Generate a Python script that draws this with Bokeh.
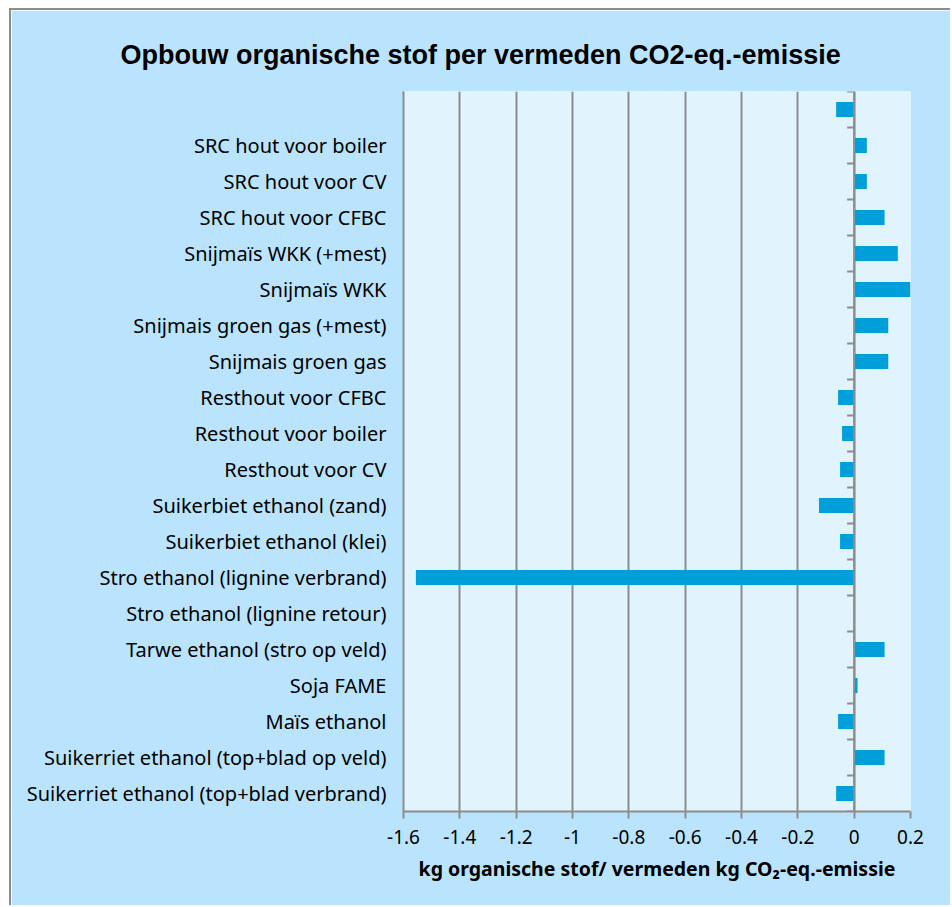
from bokeh.plotting import figure
from bokeh.models import FixedTicker, Span, Range1d, Title
from bokeh.embed import file_html
from bokeh.resources import INLINE

title_text = "Opbouw organische stof per vermeden CO2-eq.-emissie"
x_title = "kg organische stof/ vermeden kg CO\u2082-eq.-emissie"

categories = [
    "",
    "SRC hout voor boiler",
    "SRC hout voor CV",
    "SRC hout voor CFBC",
    "Snijmaïs WKK (+mest)",
    "Snijmaïs WKK",
    "Snijmais groen gas (+mest)",
    "Snijmais groen gas",
    "Resthout voor CFBC",
    "Resthout voor boiler",
    "Resthout voor CV",
    "Suikerbiet ethanol (zand)",
    "Suikerbiet ethanol (klei)",
    "Stro ethanol (lignine verbrand)",
    "Stro ethanol (lignine retour)",
    "Tarwe ethanol (stro op veld)",
    "Soja FAME",
    "Maïs ethanol",
    "Suikerriet ethanol (top+blad op veld)",
    "Suikerriet ethanol (top+blad verbrand)",
]
values = [-0.064, 0.045, 0.045, 0.108, 0.155, 0.205, 0.121, 0.121, -0.057, -0.043,
          -0.05, -0.125, -0.05, -1.556, 0.0, 0.108, 0.012, -0.057, 0.108, -0.064]

x_ticks = [-1.6, -1.4, -1.2, -1.0, -0.8, -0.6, -0.4, -0.2, 0.0, 0.2]
x_tick_labels = ["-1.6", "-1.4", "-1.2", "-1", "-0.8", "-0.6", "-0.4", "-0.2", "0", "0.2"]

OUTER = "#bae4fd"
INNER = "#e1f3fd"
BAR = "#009fda"
GRID = "#8c8c8c"
FONT = "Noto Sans"

n = len(categories)
ypos = [n - 1 - i for i in range(n)]

p = figure(width=941, height=897, output_backend="svg", toolbar_location=None,
           x_range=Range1d(x_ticks[0], x_ticks[-1]), y_range=Range1d(-0.5, n - 0.5),
           min_border_left=392, min_border_right=42, min_border_top=81, min_border_bottom=96)
p.styles = {"margin-left": "9px", "margin-top": "8px",
            "border-left": "2px solid #8c8c8c", "border-top": "2px solid #8c8c8c"}
p.background_fill_color = INNER
p.border_fill_color = OUTER
p.outline_line_color = None

p.title = Title(text=title_text, align="left", offset=-283, standoff=40,
                vertical_align="top",
                text_font="Liberation Sans", text_font_style="bold", text_font_size="27px",
                text_color="#000000")

p.hbar(y=ypos, left=0, right=values, height=0.42, color=BAR, line_color=None)

# vertical axis at zero with category tick marks
p.add_layout(Span(location=0, dimension="height", line_color=GRID, line_width=2))
bounds = [k - 0.5 for k in range(n + 1)]
tick_len = 0.025
p.segment(x0=[-tick_len] * len(bounds), x1=[0] * len(bounds), y0=bounds, y1=bounds,
          line_color=GRID, line_width=2)

xa = p.xaxis[0]
xa.ticker = FixedTicker(ticks=x_ticks)
xa.major_label_overrides = {tk: lb for tk, lb in zip(x_ticks, x_tick_labels)}
xa.axis_line_color = GRID
xa.axis_line_width = 2
xa.major_tick_line_color = GRID
xa.major_tick_line_width = 2
xa.major_tick_in = 0
xa.major_tick_out = 7
xa.minor_tick_line_color = None
xa.major_label_text_font = FONT
xa.major_label_text_font_size = "19px"
xa.major_label_text_color = "#000000"
xa.major_label_standoff = 11
xa.axis_label = x_title
xa.axis_label_text_font = FONT
xa.axis_label_text_font_style = "bold"
xa.axis_label_text_font_size = "19.5px"
xa.axis_label_text_color = "#000000"
xa.axis_label_standoff = 8

ya = p.yaxis[0]
ya.ticker = FixedTicker(ticks=ypos)
ya.major_label_overrides = {y: c for y, c in zip(ypos, categories)}
ya.axis_line_color = GRID
ya.axis_line_width = 2
ya.major_tick_line_color = None
ya.minor_tick_line_color = None
ya.major_label_text_font = FONT
ya.major_label_text_font_size = "20px"
ya.major_label_text_color = "#000000"
ya.major_label_standoff = 11

p.xgrid.ticker = FixedTicker(ticks=x_ticks)
p.xgrid.grid_line_color = GRID
p.xgrid.grid_line_width = 2
p.ygrid.grid_line_color = None

open("out.html", "w").write(file_html(p, INLINE))
